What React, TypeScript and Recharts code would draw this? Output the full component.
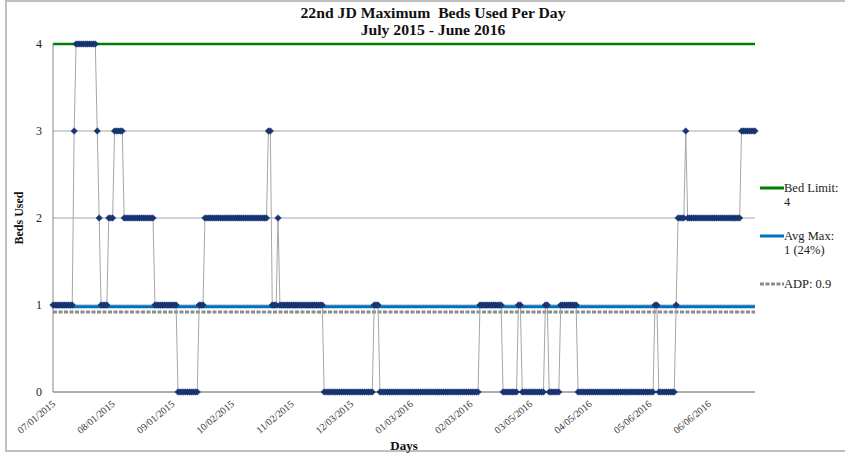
import { LineChart, Line, XAxis, YAxis, CartesianGrid, Legend, Label } from "recharts";

// daily maximum beds used, one array per month (July 2015 - June 2016)
const julBeds = [1, 1, 1, 1, 1, 1, 1, 1, 1, 1, 1, 3, 4, 4, 4, 4, 4, 4, 4, 4, 4, 4, 4, 3, 2, 1, 1, 1, 1, 2, 2];
const augBeds = [2, 3, 3, 3, 3, 3, 2, 2, 2, 2, 2, 2, 2, 2, 2, 2, 2, 2, 2, 2, 2, 2, 1, 1, 1, 1, 1, 1, 1, 1, 1];
const sepBeds = [1, 1, 1, 0, 0, 0, 0, 0, 0, 0, 0, 0, 0, 0, 1, 1, 1, 2, 2, 2, 2, 2, 2, 2, 2, 2, 2, 2, 2, 2];
const octBeds = [2, 2, 2, 2, 2, 2, 2, 2, 2, 2, 2, 2, 2, 2, 2, 2, 2, 2, 2, 2, 3, 3, 1, 1, 1, 2, 1, 1, 1, 1, 1];
const novBeds = [1, 1, 1, 1, 1, 1, 1, 1, 1, 1, 1, 1, 1, 1, 1, 1, 1, 1, 0, 0, 0, 0, 0, 0, 0, 0, 0, 0, 0, 0];
const decBeds = [0, 0, 0, 0, 0, 0, 0, 0, 0, 0, 0, 0, 0, 0, 1, 1, 1, 0, 0, 0, 0, 0, 0, 0, 0, 0, 0, 0, 0, 0, 0];
const janBeds = [0, 0, 0, 0, 0, 0, 0, 0, 0, 0, 0, 0, 0, 0, 0, 0, 0, 0, 0, 0, 0, 0, 0, 0, 0, 0, 0, 0, 0, 0, 0];
const febBeds = [0, 0, 0, 0, 0, 0, 0, 1, 1, 1, 1, 1, 1, 1, 1, 1, 1, 1, 1, 0, 0, 0, 0, 0, 0, 0, 0, 1, 1];
const marBeds = [0, 0, 0, 0, 0, 0, 0, 0, 0, 0, 0, 0, 1, 1, 0, 0, 0, 0, 0, 0, 1, 1, 1, 1, 1, 1, 1, 1, 1, 0, 0];
const aprBeds = [0, 0, 0, 0, 0, 0, 0, 0, 0, 0, 0, 0, 0, 0, 0, 0, 0, 0, 0, 0, 0, 0, 0, 0, 0, 0, 0, 0, 0, 0];
const mayBeds = [0, 0, 0, 0, 0, 0, 0, 0, 1, 1, 0, 0, 0, 0, 0, 0, 0, 0, 0, 1, 2, 2, 2, 2, 3, 2, 2, 2, 2, 2, 2];
const junBeds = [2, 2, 2, 2, 2, 2, 2, 2, 2, 2, 2, 2, 2, 2, 2, 2, 2, 2, 2, 2, 2, 2, 3, 3, 3, 3, 3, 3, 3, 3];

const months: [string, string, number[]][] = [
  ["07", "2015", julBeds],
  ["08", "2015", augBeds],
  ["09", "2015", sepBeds],
  ["10", "2015", octBeds],
  ["11", "2015", novBeds],
  ["12", "2015", decBeds],
  ["01", "2016", janBeds],
  ["02", "2016", febBeds],
  ["03", "2016", marBeds],
  ["04", "2016", aprBeds],
  ["05", "2016", mayBeds],
  ["06", "2016", junBeds],
];

const BED_LIMIT = 4;
const AVG_MAX = 0.98;
const ADP = 0.92;
const yTicks = [0, 1, 2, 3, 4];

const legendItems = [
  { lines: ["Bed Limit:", "4"], color: "#008000", dash: undefined },
  { lines: ["Avg Max:", "1 (24%)"], color: "#0070c0", dash: undefined },
  { lines: ["ADP: 0.9"], color: "#8c8c8c", dash: "4 1.5" },
];

const data = months.flatMap(([m, y, vals]) =>
  vals.map((v, i) => ({ day: `${m}/${String(i + 1).padStart(2, "0")}/${y}`, beds: v }))
);

const FONT = "'Liberation Serif', 'Times New Roman', serif";

function Diamond(props: any) {
  const { cx, cy } = props;
  if (cx == null || cy == null) return null;
  const r = 3.3;
  return (
    <path
      d={`M${cx},${cy - r}L${cx + r},${cy}L${cx},${cy + r}L${cx - r},${cy}Z`}
      fill="#1a3672"
      stroke="#10286a"
      strokeWidth={0.4}
    />
  );
}

function DateTick({ x, y, payload }: any) {
  const ax = x + 3;
  const ay = y + 5;
  return (
    <text
      x={ax}
      y={ay}
      transform={`rotate(-40 ${ax} ${ay})`}
      textAnchor="end"
      fontSize={10}
      fontFamily={FONT}
      fill="#333"
    >
      {payload.value}
    </text>
  );
}

function LegendBox() {
  return (
    <div style={{ fontFamily: FONT, fontSize: 12.5, color: "#222", lineHeight: "14px" }}>
      {legendItems.map((it) => (
        <div key={it.lines[0]} style={{ display: "flex", alignItems: "flex-start", height: 48 }}>
          <svg width={24} height={14} style={{ flexShrink: 0 }}>
            <line x1={0} y1={7} x2={24} y2={7} stroke={it.color} strokeWidth={3} strokeDasharray={it.dash} />
          </svg>
          <div>
            {it.lines.map((l) => (
              <div key={l}>{l}</div>
            ))}
          </div>
        </div>
      ))}
    </div>
  );
}

export default function App() {
  return (
    <div style={{ position: "absolute", left: 0, top: 0, width: 845, height: 456, overflow: "hidden", background: "#fff" }}>
      <div
        style={{
          position: "absolute",
          left: 5,
          top: 0,
          width: 860,
          height: 452,
          border: "2px solid #c0c0c0",
          boxSizing: "border-box",
        }}
      />
      <div
        style={{
          position: "absolute",
          left: 0,
          width: 866,
          top: 5,
          textAlign: "center",
          fontFamily: FONT,
          fontWeight: "bold",
          fontSize: 14,
          lineHeight: "17px",
          color: "#111",
          whiteSpace: "pre",
          transform: "scaleX(1.12)",
        }}
      >
        <div>{"22nd JD Maximum  Beds Used Per Day"}</div>
        <div>{"July 2015 - June 2016"}</div>
      </div>
      <LineChart
        width={845}
        height={456}
        data={data}
        margin={{ top: 44, right: 90, bottom: 14, left: 13 }}
        style={{ position: "absolute", left: 0, top: 0 }}
      >
        <CartesianGrid vertical={false} stroke="#a6a6a6" strokeWidth={1} />
        <XAxis
          dataKey="day"
          interval={30}
          tickLine={false}
          axisLine={{ stroke: "#868686" }}
          height={50}
          tick={<DateTick />}
        >
          <Label
            value="Days"
            position="insideBottom"
            offset={-8}
            style={{ fontFamily: FONT, fontWeight: "bold", fontSize: 13, fill: "#111" }}
          />
        </XAxis>
        <YAxis
          domain={[0, 4]}
          ticks={yTicks}
          width={40}
          tickLine={false}
          tickSize={6}
          tickMargin={5}
          axisLine={{ stroke: "#868686" }}
          tick={{ fontFamily: FONT, fontSize: 12, fill: "#222" }}
        >
          <Label
            value="Beds Used"
            angle={-90}
            position="insideLeft"
            offset={6}
            style={{ fontFamily: FONT, fontWeight: "bold", fontSize: 12, fill: "#111", textAnchor: "middle" }}
          />
        </YAxis>
        <Legend
          layout="horizontal"
          align="center"
          verticalAlign="middle"
          content={<LegendBox />}
          wrapperStyle={{ left: 760, top: 181, width: 90 }}
        />
        <Line
          dataKey={() => BED_LIMIT}
          name="Bed Limit"
          stroke="#008000"
          strokeWidth={2.5}
          dot={false}
          isAnimationActive={false}
        />
        <Line
          dataKey={() => AVG_MAX}
          name="Avg Max"
          stroke="#0070c0"
          strokeWidth={3}
          dot={false}
          isAnimationActive={false}
        />
        <Line
          dataKey={() => ADP}
          name="ADP"
          stroke="#8c8c8c"
          strokeWidth={3}
          strokeDasharray="4 1.5"
          dot={false}
          isAnimationActive={false}
        />
        <Line
          dataKey="beds"
          name="Beds"
          stroke="#a6a6a6"
          strokeWidth={1}
          dot={(p: any) => <Diamond key={p.index} {...p} />}
          activeDot={false}
          isAnimationActive={false}
        />
      </LineChart>
    </div>
  );
}
